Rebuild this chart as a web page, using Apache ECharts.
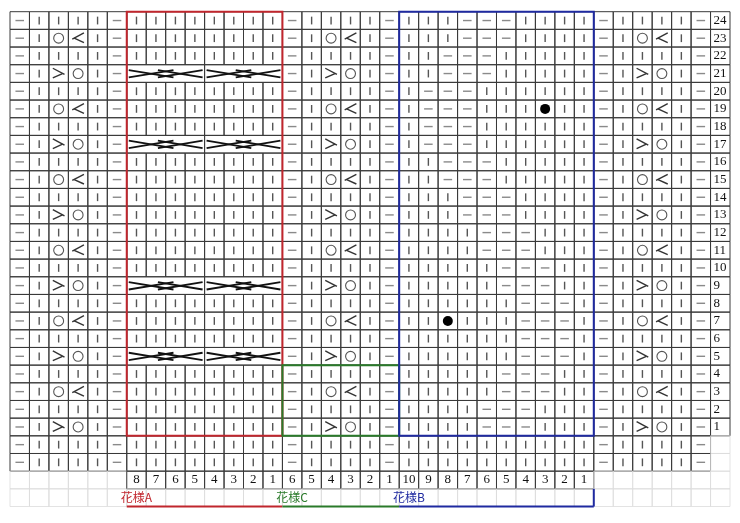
<!DOCTYPE html>
<html>
<head>
<meta charset="utf-8">
<script src="https://cdn.jsdelivr.net/npm/echarts@6/dist/echarts.min.js"></script>
<style>html,body{margin:0;background:#fff}#chart{width:740px;height:523px}</style>
</head>
<body>
<div id="chart"></div>
<script>
// rows of the chart, top to bottom
var rowNumbers = [24,23,22,21,20,19,18,17,16,15,14,13,12,11,10,9,8,7,6,5,4,3,2,1];
// side columns: yo + k2tog rows, ssk + yo rows
var yoK2togRows = [23,19,15,11,7,3];
var sskYoRows = [21,17,13,9,5,1];
// pattern A cable rows
var cableRows = [21,17,9,5];
// pattern B: first purl stitch (from left) for rows 1..24, three purls wide
var bPurlStart = [4,4,5,5,6,6,6,6,5,5,4,4,3,3,2,2,1,1,1,1,2,2,3,3];
// bobbles [row, column]
var bobbles = [[19,27],[7,22]];
// stitch numbers under the chart
var numsA = ['8','7','6','5','4','3','2','1'];
var numsC = ['6','5','4','3','2','1'];
var numsB = ['10','9','8','7','6','5','4','3','2','1'];
var labels = [['花様A', 6.5, '#c0262d'], ['花様C', 14.5, '#2a7a2a'], ['花様B', 20.5, '#1f2aa0']];
var frames = [[6,0,14,24,'#c0262d'],[14,0,20,4,'#2a7a2a'],[20,0,30,24,'#1f2aa0']];

var cells = [];
function sideCells(row, start) {
  var sym = ['p','k','k','k','k','p'];
  if (yoK2togRows.indexOf(row) >= 0) { sym[2] = 'yo'; sym[3] = 'k2'; }
  if (sskYoRows.indexOf(row) >= 0) { sym[2] = 'ssk'; sym[3] = 'yo'; }
  sym.forEach(function (s, i) { cells.push({c: start + i, r: row, t: s}); });
}
for (var row = 24; row >= -1; row--) {
  var y = row - 1;
  sideCells(row, 0); sideCells(row, 14); sideCells(row, 30);
  if (cableRows.indexOf(row) >= 0) {
    cells.push({c: 6, r: row, t: 'cab'}); cells.push({c: 10, r: row, t: 'cab'});
  } else {
    for (var i = 6; i < 14; i++) cells.push({c: i, r: row, t: 'k'});
  }
  for (var j = 0; j < 10; j++) {
    var t = 'k';
    if (row >= 1) { var s = bPurlStart[row - 1]; if (j >= s && j < s + 3) t = 'p'; }
    bobbles.forEach(function (b) { if (b[0] === row && b[1] === 20 + j) t = 'bul'; });
    cells.push({c: 20 + j, r: row, t: t});
  }
  cells.push({c: 36, r: row, t: row >= 1 ? 'rn' : 'light', txt: String(row)});
}
// number row and label row
for (var c = 0; c < 37; c++) {
  var txt = null;
  if (c >= 6 && c < 14) txt = numsA[c - 6];
  else if (c >= 14 && c < 20) txt = numsC[c - 14];
  else if (c >= 20 && c < 30) txt = numsB[c - 20];
  cells.push({c: c, r: -2, t: txt ? 'num' : 'light', txt: txt});
  cells.push({c: c, r: -3, t: 'light'});
}

var DARK = '#3a3a3a', SYM = '#555';
function renderCell(params, api) {
  var d = cells[params.dataIndex];
  var w = d.t === 'cab' ? 4 : 1;
  var p0 = api.coord([d.c, d.r]), p1 = api.coord([d.c + w, d.r - 1]);
  var x = p0[0], y = p0[1], W = p1[0] - p0[0], H = p1[1] - p0[1];
  var cx = x + W / 2, cy = y + H / 2;
  var light = d.t === 'light';
  var ch = [{type: 'rect', shape: {x: x, y: y, width: W, height: H},
    style: {fill: 'none', stroke: light ? '#dcdcdc' : DARK, lineWidth: light ? 0.8 : 1}}];
  var ln = function (x1, y1, x2, y2, col, lw) {
    ch.push({type: 'line', shape: {x1: x1, y1: y1, x2: x2, y2: y2}, style: {stroke: col || SYM, lineWidth: lw || 1.4}});
  };
  var u = W, h = H;
  if (d.t === 'k') ln(cx, y + h * 0.28, cx, y + h * 0.72);
  if (d.t === 'p') ln(cx - u * 0.22, cy, cx + u * 0.22, cy, '#8a8a8a');
  if (d.t === 'yo') ch.push({type: 'circle', shape: {cx: cx, cy: cy, r: h * 0.28}, style: {fill: 'none', stroke: SYM, lineWidth: 1.1}});
  if (d.t === 'k2') { ln(cx - u * 0.3, cy + h * 0.05, cx + u * 0.3, cy - h * 0.3, '#333'); ln(cx - u * 0.2, cy, cx + u * 0.3, cy + h * 0.25, '#333'); }
  if (d.t === 'ssk') { ln(cx - u * 0.3, cy - h * 0.3, cx + u * 0.3, cy + h * 0.05, '#333'); ln(cx + u * 0.2, cy, cx - u * 0.3, cy + h * 0.25, '#333'); }
  if (d.t === 'bul') ch.push({type: 'circle', shape: {cx: cx, cy: cy, r: 5}, style: {fill: '#000'}});
  if (d.t === 'cab') {
    var q = W / 4, t = y + h * 0.3, b = y + h * 0.72;
    ln(x + 2, t, x + q * 2.4, b, '#111', 1.8); ln(x + q * 1.6, t, x + W - 2, b, '#111', 1.8);
    ln(x + 2, b, x + q * 2.4, t, '#111', 1.8); ln(x + q * 1.6, b, x + W - 2, t, '#111', 1.8);
  }
  if ((d.t === 'rn' || d.t === 'num') && d.txt) {
    ch.push({type: 'text', style: {text: d.txt, x: d.t === 'rn' ? x + 3 : cx, y: cy,
      align: d.t === 'rn' ? 'left' : 'center', verticalAlign: 'middle',
      font: '13px "Liberation Serif", "DejaVu Serif", serif', fill: '#111'}});
  }
  return {type: 'group', children: ch};
}

function renderFrames(params, api) {
  var f = frames[params.dataIndex];
  var p0 = api.coord([f[0], f[3]]), p1 = api.coord([f[2], f[1]]);
  return {type: 'rect', shape: {x: p0[0], y: p0[1], width: p1[0] - p0[0], height: p1[1] - p0[1]},
    style: {fill: 'none', stroke: f[4], lineWidth: 2}};
}

function renderLabels(params, api) {
  var ch = [];
  frames.forEach(function (f) {
    var a = api.coord([f[0], -4]), b = api.coord([f[2], -4]);
    ch.push({type: 'line', shape: {x1: a[0], y1: a[1], x2: b[0], y2: b[1]}, style: {stroke: f[4], lineWidth: 2}});
  });
  var v0 = api.coord([30, -3]), v1 = api.coord([30, -4]);
  ch.push({type: 'line', shape: {x1: v0[0], y1: v0[1], x2: v1[0], y2: v1[1]}, style: {stroke: '#1f2aa0', lineWidth: 2}});
  labels.forEach(function (l) {
    var p = api.coord([l[1], -3.5]);
    ch.push({type: 'text', style: {text: l[0], x: p[0], y: p[1], align: 'center', verticalAlign: 'middle',
      font: '12px "Noto Sans CJK JP", sans-serif', fill: l[2]}});
  });
  return {type: 'group', children: ch};
}

var chart = echarts.init(document.getElementById('chart'));
chart.setOption({
  animation: false,
  grid: {left: 10, right: 10, top: 11.7, bottom: 16.5},
  xAxis: {type: 'value', min: 0, max: 37, show: false},
  yAxis: {type: 'value', min: -4, max: 24, show: false},
  series: [
    {type: 'custom', renderItem: renderCell, data: cells.map(function (d) { return [d.c, d.r]; })},
    {type: 'custom', renderItem: renderFrames, data: frames.map(function (f) { return [f[0], f[1]]; }), z: 3},
    {type: 'custom', renderItem: renderLabels, data: [[0, 0]], z: 3}
  ]
});
</script>
</body>
</html>
